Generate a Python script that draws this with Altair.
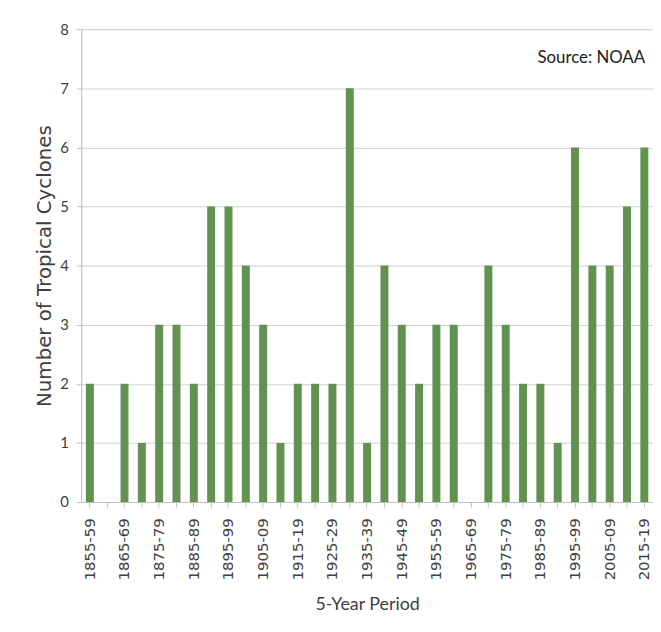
import altair as alt
import pandas as pd

periods = [
    "1855-59", "1860-64", "1865-69", "1870-74", "1875-79", "1880-84", "1885-89",
    "1890-94", "1895-99", "1900-04", "1905-09", "1910-14", "1915-19", "1920-24",
    "1925-29", "1930-34", "1935-39", "1940-44", "1945-49", "1950-54", "1955-59",
    "1960-64", "1965-69", "1970-74", "1975-79", "1980-84", "1985-89", "1990-94",
    "1995-99", "2000-04", "2005-09", "2010-14", "2015-19",
]
counts = [2, 0, 2, 1, 3, 3, 2, 5, 5, 4, 3, 1, 2, 2, 2, 7, 1, 4, 3, 2, 3,
          3, 0, 4, 3, 2, 2, 1, 6, 4, 4, 5, 6]
y_ticks = [0, 1, 2, 3, 4, 5, 6, 7, 8]

df = pd.DataFrame({"period": periods, "count": counts})

narrow = "Lato"

bars = alt.Chart(df).mark_bar(color="#62924f").encode(
    x=alt.X(
        "period:N",
        sort=periods,
        scale=alt.Scale(paddingInner=0.54, paddingOuter=0.27),
        axis=alt.Axis(
            title="5-Year Period",
            labelAngle=-90,
            labelExpr="(toNumber(slice(datum.value,0,4)) % 10 == 5) ? datum.value : ''",
            labelFont="DejaVu Sans",
            labelFontSize=15,
            labelColor="#404040",
            labelPadding=11,
            tickColor="#bfbfbf",
            tickSize=5,
            domainColor="#bfbfbf",
            titleFont=narrow,
            titleFontSize=18,
            titleFontWeight="normal",
            titleColor="#404040",
            titlePadding=16,
        ),
    ),
    y=alt.Y(
        "count:Q",
        scale=alt.Scale(domain=[0, 8], nice=False),
        axis=alt.Axis(
            title="Number of Tropical Cyclones",
            values=y_ticks,
            format="d",
            labelFont=narrow,
            labelFontSize=15,
            labelColor="#404040",
            labelPadding=8,
            tickColor="#bfbfbf",
            tickSize=5,
            domainColor="#bfbfbf",
            gridColor="#d0d0d0",
            titleFont="DejaVu Sans",
            titleFontSize=20,
            titleFontWeight="normal",
            titleColor="#404040",
            titlePadding=5,
        ),
    ),
)

source = alt.Chart(pd.DataFrame({"t": ["Source: NOAA"]})).mark_text(
    font=narrow, fontSize=17, color="#222222", align="right", baseline="middle"
).encode(x=alt.value(570), y=alt.value(29), text="t:N")

chart = (bars + source).properties(
    width=578,
    height=478,
    autosize=alt.AutoSizeParams(type="none"),
    padding={"left": 74, "top": 18, "right": 0, "bottom": 130},
).configure_view(stroke=None).configure(background="white")

chart.save("out.html", embed_options={"renderer": "svg", "actions": False})
